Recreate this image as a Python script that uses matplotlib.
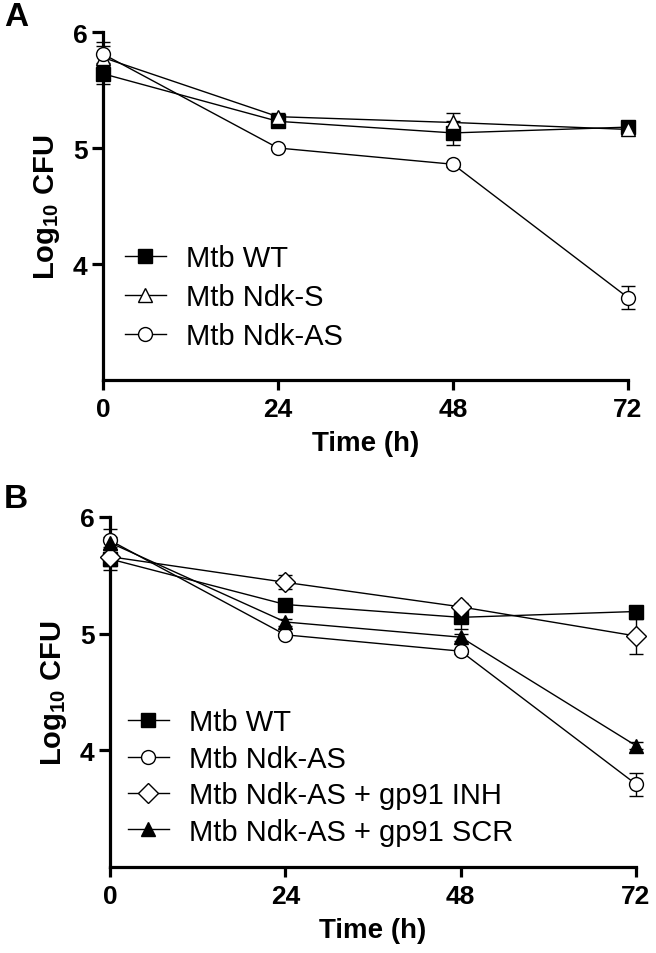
import matplotlib
matplotlib.use("Agg")
import matplotlib.pyplot as plt
from matplotlib.lines import Line2D
import numpy as np

plt.rcParams['font.family'] = ['Liberation Sans', 'DejaVu Sans']
plt.rcParams['mathtext.fontset'] = 'custom'
plt.rcParams['mathtext.rm'] = 'Liberation Sans'
plt.rcParams['mathtext.bf'] = 'Liberation Sans:bold'

time_h = [0, 24, 48, 72]
x_ticks = [0, 24, 48, 72]
y_ticks = [4, 5, 6]

# Panel A
a_wt = [5.64, 5.23, 5.13, 5.18]
a_wt_err = [0.09, 0.03, 0.10, 0.03]
a_s = [5.78, 5.27, 5.22, 5.16]
a_s_err = [0.10, 0.03, 0.08, 0.03]
a_as = [5.81, 5.00, 4.86, 3.71]
a_as_err = [0.10, 0.02, 0.02, 0.10]

# Panel B
b_wt = [5.64, 5.25, 5.14, 5.19]
b_wt_err = [0.09, 0.03, 0.10, 0.03]
b_as = [5.80, 4.99, 4.85, 3.71]
b_as_err = [0.10, 0.02, 0.02, 0.10]
b_inh = [5.66, 5.44, 5.23, 4.98]
b_inh_err = [0.08, 0.06, 0.03, 0.15]
b_scr = [5.78, 5.10, 4.97, 4.04]
b_scr_err = [0.05, 0.03, 0.03, 0.03]

W, H = 656, 954
fig = plt.figure(figsize=(W / 100, H / 100), dpi=100)

def add_ax(l, t, r, b):
    return fig.add_axes([l / W, 1 - b / H, (r - l) / W, (b - t) / H])

axA = add_ax(103, 33, 628, 381)
axB = add_ax(110, 518, 636, 868)

lw_line = 1.0
ms = 10

def series(ax, y, err, marker, mfc, label):
    ax.errorbar(time_h, y, yerr=err, color='black', lw=lw_line, marker=marker,
                ms=ms, mfc=mfc, mec='black', mew=1.0, capsize=5, capthick=1.0,
                elinewidth=1.0, clip_on=False, zorder=3)
    return Line2D([], [], color='black', lw=lw_line, marker=marker, ms=ms,
                  mfc=mfc, mec='black', mew=1.0, label=label)

hA = [series(axA, a_wt, a_wt_err, 's', 'black', 'Mtb WT'),
      series(axA, a_s, a_s_err, '^', 'white', 'Mtb Ndk-S'),
      series(axA, a_as, a_as_err, 'o', 'white', 'Mtb Ndk-AS')]

hB = [series(axB, b_wt, b_wt_err, 's', 'black', 'Mtb WT'),
      series(axB, b_as, b_as_err, 'o', 'white', 'Mtb Ndk-AS'),
      series(axB, b_inh, b_inh_err, 'D', 'white', 'Mtb Ndk-AS + gp91 INH'),
      series(axB, b_scr, b_scr_err, '^', 'black', 'Mtb Ndk-AS + gp91 SCR')]

for ax in (axA, axB):
    ax.set_xlim(0, 72)
    ax.set_ylim(3, 6)
    ax.set_xticks(x_ticks)
    ax.set_yticks(y_ticks)
    for s in ('top', 'right'):
        ax.spines[s].set_visible(False)
    for s in ('left', 'bottom'):
        ax.spines[s].set_linewidth(2.3)
    ax.tick_params(axis='both', width=2.3, labelsize=19, direction='out')
    ax.tick_params(axis='x', length=7, pad=5)
    ax.tick_params(axis='y', length=8, pad=3)
    for t in ax.get_xticklabels() + ax.get_yticklabels():
        t.set_fontweight('bold')
    ax.set_xlabel('Time (h)', fontsize=20, fontweight='bold', labelpad=7)
    ax.set_ylabel(r'Log$_{\mathbf{10}}$ CFU', fontsize=21, fontweight='bold', labelpad=8)

axA.legend(handles=hA, loc='center left', bbox_to_anchor=(125 / W, 1 - 298 / H),
           bbox_transform=fig.transFigure, frameon=False, fontsize=21,
           handlelength=1.4, handletextpad=0.7, labelspacing=0.38,
           borderpad=0, borderaxespad=0)
axB.legend(handles=hB, loc='center left', bbox_to_anchor=(128 / W, 1 - 778 / H),
           bbox_transform=fig.transFigure, frameon=False, fontsize=21,
           handlelength=1.4, handletextpad=0.7, labelspacing=0.29,
           borderpad=0, borderaxespad=0)

fig.text(16 / W, 1 - 18 / H, 'A', fontsize=24, fontweight='bold', ha='center', va='center')
fig.text(16 / W, 1 - 500 / H, 'B', fontsize=24, fontweight='bold', ha='center', va='center')

fig.savefig('out.png', dpi=100)
